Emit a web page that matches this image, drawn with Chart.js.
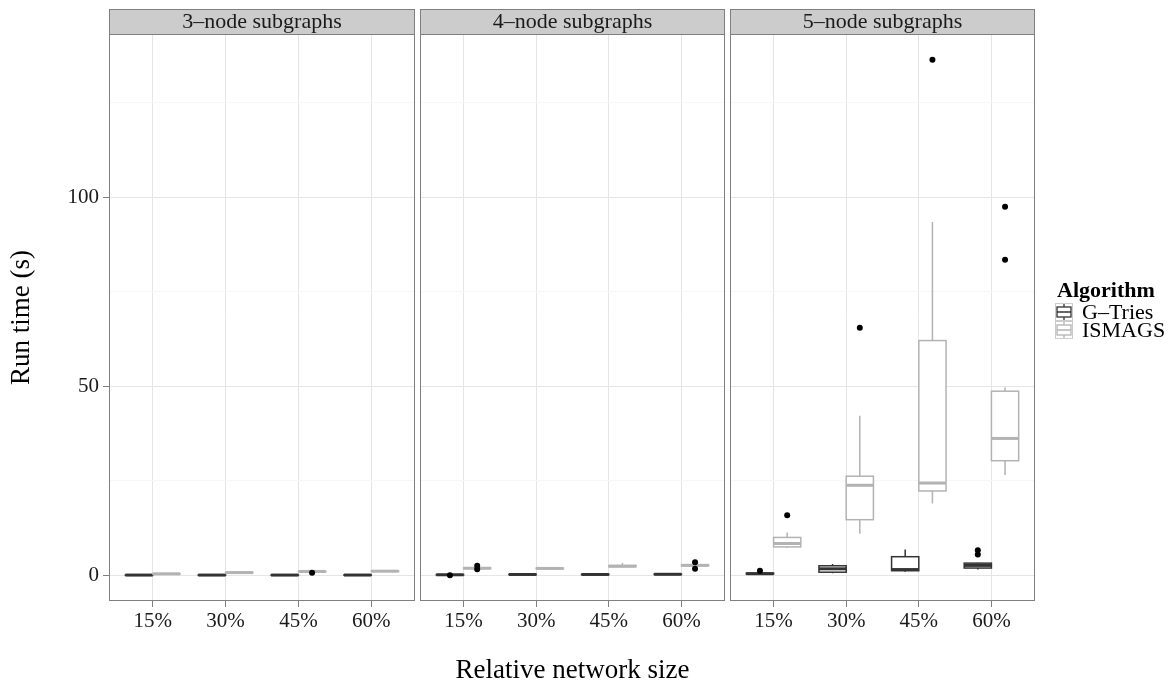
<!DOCTYPE html>
<html>
<head>
<meta charset="utf-8">
<script src="https://cdn.jsdelivr.net/npm/chart.js@4.4.0/dist/chart.umd.min.js"></script>
<style>
    html, body { margin: 0; padding: 0; background: #fff; }
    #wrap { position: relative; width: 1172px; height: 684px; }
    #wrap canvas { position: absolute; top: 0; }
</style>
</head>
<body>
<div id="wrap">
    <canvas id="p1" width="416" height="684" style="left:0px"></canvas>
    <canvas id="p2" width="310" height="684" style="left:416px"></canvas>
    <canvas id="p3" width="446" height="684" style="left:726px"></canvas>
</div>

<script>
// categories and labels
const sizes = ['15%', '30%', '45%', '60%'];
const facets = ['3–node subgraphs', '4–node subgraphs', '5–node subgraphs'];
const algorithms = ['G–Tries', 'ISMAGS'];

// box stats per size: [lower whisker, q1, median, q3, upper whisker]  (seconds)
const gTries3 = [[0.0, 0.02, 0.04, 0.07, 0.1], [0.0, 0.02, 0.04, 0.07, 0.1], [0.0, 0.02, 0.04, 0.07, 0.1], [0.0, 0.02, 0.05, 0.08, 0.12]];
const ismags3 = [[0.3, 0.33, 0.37, 0.41, 0.45], [0.6, 0.65, 0.7, 0.74, 0.8], [0.9, 0.95, 1.0, 1.04, 1.1], [0.98, 1.02, 1.07, 1.11, 1.15]];
const gTries4 = [[0.05, 0.08, 0.12, 0.16, 0.2], [0.1, 0.15, 0.2, 0.24, 0.28], [0.1, 0.15, 0.2, 0.24, 0.28], [0.15, 0.2, 0.25, 0.3, 0.35]];
const ismags4 = [[1.7, 1.78, 1.85, 1.93, 2.0], [1.65, 1.72, 1.8, 1.87, 1.95], [2.1, 2.25, 2.4, 2.55, 3.3], [2.4, 2.52, 2.62, 2.72, 2.85]];
const gTries5 = [[0.2, 0.3, 0.4, 0.55, 0.7], [0.5, 0.8, 1.7, 2.5, 3.0], [0.9, 1.2, 1.5, 4.9, 6.8], [1.5, 1.9, 2.6, 3.2, 3.3]];
const ismags5 = [[7.2, 7.5, 8.4, 10.0, 11.3], [11.0, 14.7, 23.8, 26.2, 42.2], [19.0, 22.3, 24.4, 62.1, 93.5], [26.5, 30.3, 36.2, 48.7, 49.7]];

// outliers per size
const gTriesOut3 = [[], [], [], []];
const ismagsOut3 = [[], [], [0.63], []];
const gTriesOut4 = [[0.0], [], [], []];
const ismagsOut4 = [[2.5, 1.55], [], [], [3.45, 1.7]];
const gTriesOut5 = [[1.2], [], [], [6.6, 5.5]];
const ismagsOut5 = [[15.9], [65.5], [136.4], [97.5, 83.5]];

const boxColors = ['#333333', '#b3b3b3'];
const font = "'Liberation Serif', 'Times New Roman', serif";
const dodge = 0.1875;   // half of the dodged box width (x units)

// shared y range, ggplot style 5% expansion
let all = [].concat(gTries3, ismags3, gTries4, ismags4, gTries5, ismags5,
    gTriesOut3, ismagsOut3, gTriesOut4, ismagsOut4, gTriesOut5, ismagsOut5).flat();
let yLo = Math.min(...all), yHi = Math.max(...all);
let yMin = yLo - 0.05 * (yHi - yLo), yMax = yHi + 0.05 * (yHi - yLo);

function boxPlugin(series, facet, withLegend) {
    return {
        id: 'boxes',
        beforeDatasetsDraw(chart) {
            const { ctx, scales: { x, y } } = chart;
            ctx.save();
            series.forEach((s, k) => {
                const shift = k === 0 ? -dodge : dodge;
                s.forEach((st, i) => {
                    const c = i + 1 + shift;
                    const xl = x.getPixelForValue(c - dodge);
                    const xr = x.getPixelForValue(c + dodge);
                    const xc = x.getPixelForValue(c);
                    const [lo, q1, med, q3, hi] = st.map(v => y.getPixelForValue(v));
                    ctx.strokeStyle = boxColors[k];
                    ctx.lineWidth = 1.5;
                    ctx.beginPath();
                    ctx.moveTo(xc, q3); ctx.lineTo(xc, hi);
                    ctx.moveTo(xc, q1); ctx.lineTo(xc, lo);
                    ctx.stroke();
                    ctx.fillStyle = '#fff';
                    ctx.fillRect(xl, q3, xr - xl, q1 - q3);
                    ctx.strokeRect(xl, q3, xr - xl, q1 - q3);
                    ctx.lineWidth = 3;
                    ctx.beginPath();
                    ctx.moveTo(xl, med); ctx.lineTo(xr, med);
                    ctx.stroke();
                });
            });
            ctx.restore();
        },
        afterDraw(chart) {
            const { ctx, chartArea: a } = chart;
            ctx.save();
            // panel border
            ctx.strokeStyle = '#7f7f7f';
            ctx.lineWidth = 1;
            ctx.strokeRect(a.left + 0.5, a.top + 0.5, a.right - a.left - 1, a.bottom - a.top - 1);
            // facet strip
            ctx.fillStyle = '#cccccc';
            ctx.fillRect(a.left, 9, a.right - a.left, a.top - 9);
            ctx.strokeRect(a.left + 0.5, 9.5, a.right - a.left - 1, a.top - 9);
            ctx.fillStyle = '#1a1a1a';
            ctx.font = '22px ' + font;
            ctx.textAlign = 'center';
            ctx.textBaseline = 'middle';
            ctx.fillText(facet, (a.left + a.right) / 2, 22);
            if (withLegend) {
                const lx = a.right + 20;
                ctx.textAlign = 'left';
                ctx.font = 'bold 22px ' + font;
                ctx.fillStyle = '#000';
                ctx.fillText('Algorithm', lx + 2, 291);
                algorithms.forEach((name, k) => {
                    const ky = 303 + k * 18;
                    ctx.strokeStyle = '#cccccc';
                    ctx.lineWidth = 1;
                    ctx.strokeRect(lx + 0.5, ky + 0.5, 17, 17);
                    ctx.strokeStyle = boxColors[k];
                    ctx.lineWidth = 1.3;
                    ctx.beginPath();
                    ctx.moveTo(lx + 9, ky + 1); ctx.lineTo(lx + 9, ky + 4);
                    ctx.moveTo(lx + 9, ky + 14); ctx.lineTo(lx + 9, ky + 17);
                    ctx.moveTo(lx + 2, ky + 9); ctx.lineTo(lx + 16, ky + 9);
                    ctx.stroke();
                    ctx.strokeRect(lx + 2, ky + 4, 14, 10);
                    ctx.fillStyle = '#000';
                    ctx.font = '22px ' + font;
                    ctx.fillText(name, lx + 27, ky + 10);
                });
            }
            ctx.restore();
        }
    };
}

function outlierPoints(list, shift) {
    const pts = [];
    list.forEach((vals, i) => vals.forEach(v => pts.push({ x: i + 1 + shift, y: v })));
    return pts;
}

function makePanel(id, idx, gStats, iStats, gOut, iOut) {
    const first = idx === 0;
    const middle = idx === 1;
    const last = idx === 2;
    return new Chart(document.getElementById(id), {
        type: 'scatter',
        data: {
            datasets: [
                { label: algorithms[0], data: outlierPoints(gOut, -dodge) },
                { label: algorithms[1], data: outlierPoints(iOut, dodge) }
            ]
        },
        options: {
            responsive: false,
            animation: false,
            events: [],
            layout: { autoPadding: false, padding: { top: 34, bottom: 0, left: first ? 0 : 4, right: last ? 137 : 1 } },
            elements: { point: { radius: 3, hoverRadius: 3, backgroundColor: '#000', borderWidth: 0 } },
            plugins: { legend: { display: false }, tooltip: { enabled: false } },
            scales: {
                x: {
                    type: 'linear', min: 0.4, max: 4.6,
                    afterBuildTicks: sc => { sc.ticks = sizes.map((_, i) => ({ value: i + 1 })); },
                    afterFit: sc => { sc.height = 83; },
                    ticks: {
                        callback: v => sizes[Math.round(v) - 1],
                        font: { family: font, size: 21 }, color: '#1a1a1a', padding: 2,
                        maxRotation: 0
                    },
                    grid: { color: '#e5e5e5', tickColor: '#7f7f7f', tickLength: 6 },
                    border: { display: false },
                    title: {
                        display: middle, text: 'Relative network size',
                        font: { family: font, size: 27, lineHeight: 1 }, color: '#000',
                        padding: { top: 0, bottom: 0 }
                    }
                },
                y: {
                    type: 'linear', min: yMin, max: yMax,
                    afterBuildTicks: sc => { sc.ticks = [0, 25, 50, 75, 100, 125].map(v => ({ value: v })); },
                    afterFit: sc => { sc.width = first ? 109 : 0; },
                    ticks: {
                        display: first,
                        callback: v => (v % 50 === 0 ? v : ''),
                        font: { family: font, size: 21 }, color: '#1a1a1a', padding: 4
                    },
                    grid: {
                        drawTicks: first,
                        color: c => (c.tick && c.tick.value % 50 === 0 ? '#e5e5e5' : '#f7f7f7'),
                        tickColor: c => (c.tick && c.tick.value % 50 === 0 ? '#7f7f7f' : 'rgba(0,0,0,0)'),
                        tickLength: 6
                    },
                    border: { display: false },
                    title: {
                        display: first, text: 'Run time (s)',
                        font: { family: font, size: 27, lineHeight: 1 }, color: '#000',
                        padding: { top: 8, bottom: 0 }
                    }
                }
            }
        },
        plugins: [boxPlugin([gStats, iStats], facets[idx], last)]
    });
}

makePanel('p1', 0, gTries3, ismags3, gTriesOut3, ismagsOut3);
makePanel('p2', 1, gTries4, ismags4, gTriesOut4, ismagsOut4);
makePanel('p3', 2, gTries5, ismags5, gTriesOut5, ismagsOut5);
</script>
</body>
</html>
